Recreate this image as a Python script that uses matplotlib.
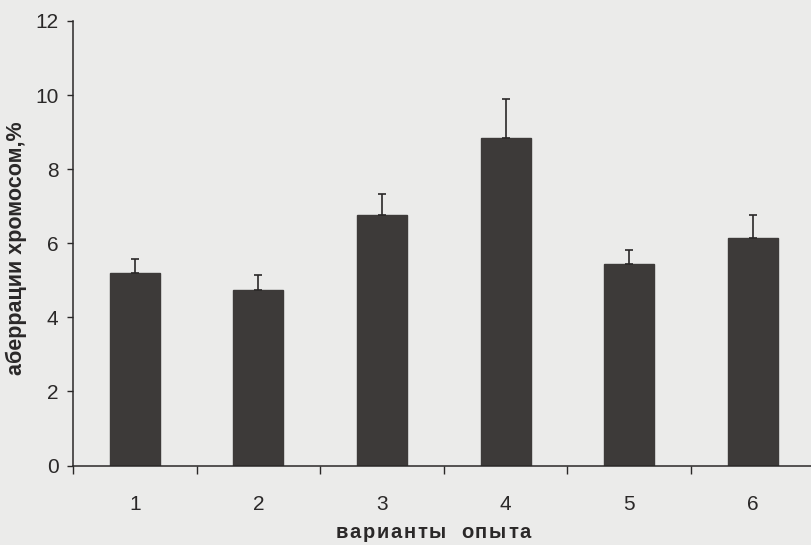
import matplotlib
matplotlib.use("Agg")
import matplotlib.pyplot as plt
import numpy as np

# Chromosome aberration frequency by experimental variant
variants = ["1", "2", "3", "4", "5", "6"]
aberrations = [5.2, 4.75, 6.75, 8.85, 5.45, 6.15]
errors = [0.38, 0.38, 0.58, 1.05, 0.37, 0.6]

ylabel_text = "аберрации хромосом,%"
xlabel_text = "варианты опыта"
yticks = [0, 2, 4, 6, 8, 10, 12]

plt.rcParams["font.family"] = ["Liberation Sans", "DejaVu Sans"]

ink = "#2a2828"
bar_color = "#3d3a39"
paper = "#ebebea"

W, H = 812, 545
fig = plt.figure(figsize=(W / 100, H / 100), dpi=100, facecolor=paper)
ax = fig.add_axes([73 / W, 79.5 / H, (814.5 - 73) / W, (465.5 - 21) / H])
ax.set_facecolor("none")

x = np.arange(1, len(variants) + 1)
ax.bar(x, aberrations, width=0.405, color=bar_color, edgecolor=bar_color, zorder=2)
ax.errorbar(x, aberrations, yerr=[np.zeros(len(errors)), errors], fmt="none",
            ecolor=ink, elinewidth=1.2, capsize=3.0, capthick=1.2, zorder=3)

ax.set_xlim(0.5, len(variants) + 0.5)
ax.set_ylim(0, 12)

for side in ("top", "right"):
    ax.spines[side].set_visible(False)
for side in ("left", "bottom"):
    ax.spines[side].set_color(ink)
    ax.spines[side].set_linewidth(1.1)

ax.set_yticks(yticks)
ax.set_yticklabels([str(v) for v in yticks])
ax.tick_params(axis="y", direction="out", length=4.5, width=1.0, color=ink,
               labelsize=15, labelcolor=ink, pad=6)

ax.set_xticks(x)
ax.set_xticklabels(variants)
ax.tick_params(axis="x", which="major", length=0, labelsize=15, labelcolor=ink, pad=21)
ax.set_xticks(np.arange(0.5, len(variants) + 1.0, 1.0), minor=True)
ax.tick_params(axis="x", which="minor", direction="out", length=6, width=1.0, color=ink)

# vertical axis title
fig.text(16 / W, 1 - 248 / H, ylabel_text, rotation=90, ha="center", va="center",
         fontsize=15.5, fontweight="bold", color=ink)

# letter-spaced horizontal axis title
fig.canvas.draw()
renderer = fig.canvas.get_renderer()
tracking = 1.8   # extra px between letters
word_gap = 13.0  # px for the space between words
props = dict(fontsize=14.5, fontweight="bold", color=ink, va="center", ha="left")
glyphs = []
total = 0.0
for ch in xlabel_text:
    if ch == " ":
        glyphs.append((ch, word_gap))
        total += word_gap
        continue
    t = fig.text(0, 0, ch, **props)
    w = t.get_window_extent(renderer).width
    t.remove()
    glyphs.append((ch, w))
    total += w + tracking
total -= tracking
cx, cy = 433, H - 533
pos = cx - total / 2
for ch, w in glyphs:
    if ch == " ":
        pos += w
        continue
    fig.text(pos / W, cy / H, ch, **props)
    pos += w + tracking

fig.savefig("out.png", dpi=100, facecolor=paper)
